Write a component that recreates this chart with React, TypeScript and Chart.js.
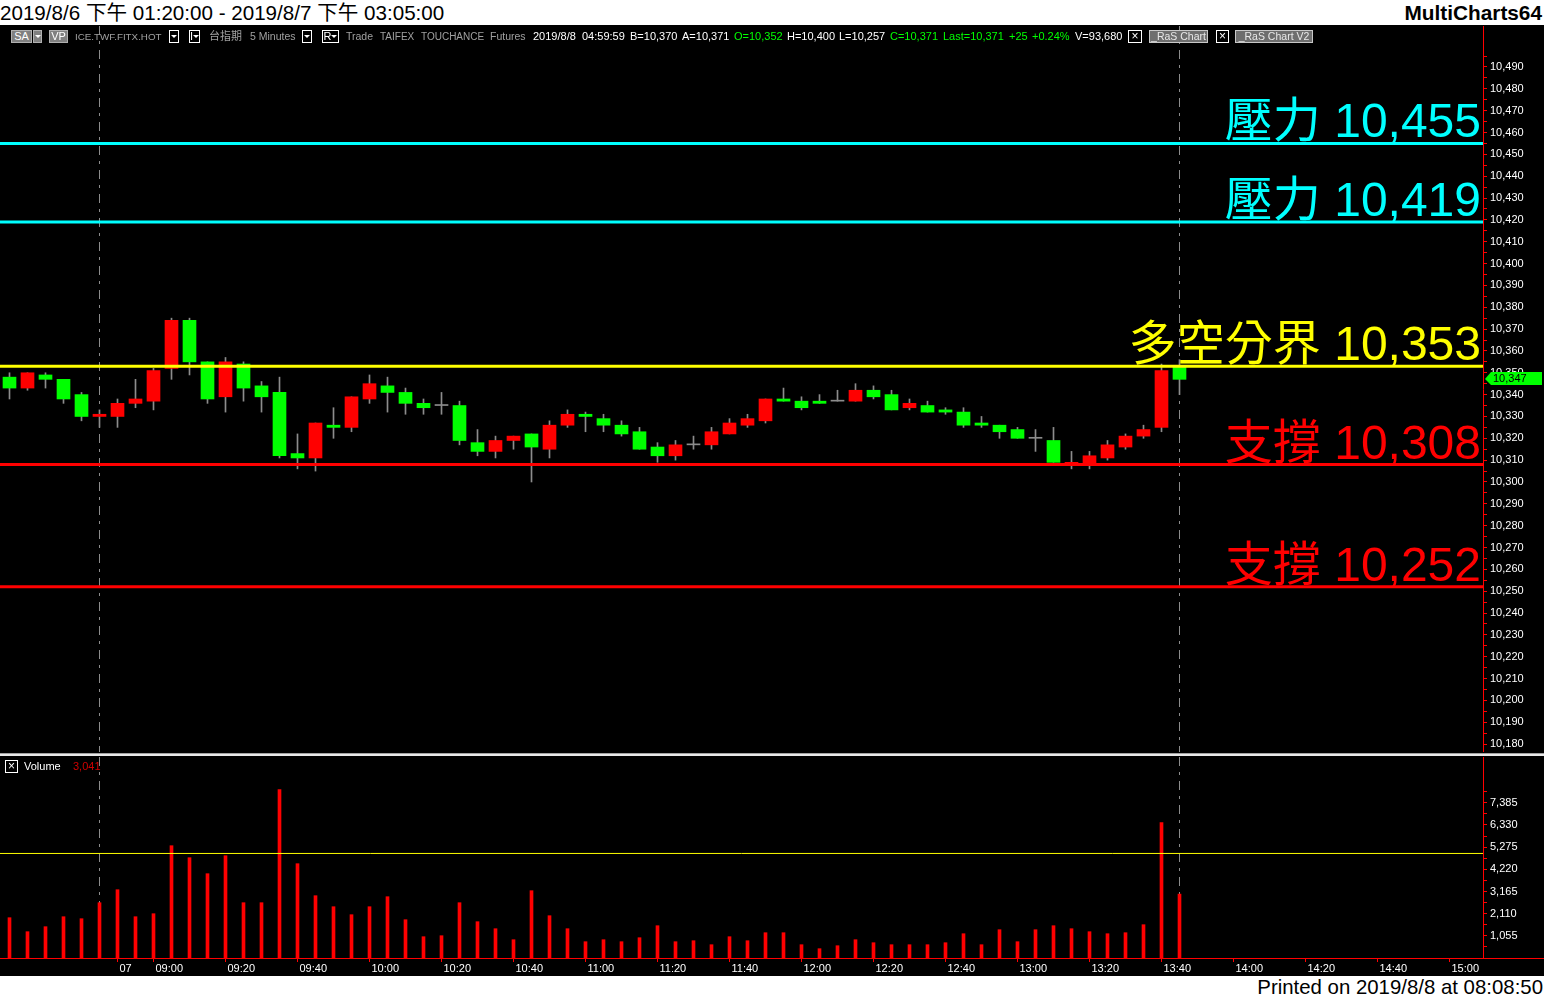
import React, { useEffect, useRef } from "react";
import { Chart, registerables } from "chart.js";

Chart.register(...registerables);

// ---------------- DATA ----------------
const barTimes = [
  "8/6 13:20", "8/6 13:25", "8/6 13:30", "8/6 13:35", "8/6 13:40", "8/6 13:45",
  "08:50", "08:55", "09:00", "09:05", "09:10", "09:15", "09:20", "09:25", "09:30", "09:35",
  "09:40", "09:45", "09:50", "09:55", "10:00", "10:05", "10:10", "10:15", "10:20", "10:25",
  "10:30", "10:35", "10:40", "10:45", "10:50", "10:55", "11:00", "11:05", "11:10", "11:15",
  "11:20", "11:25", "11:30", "11:35", "11:40", "11:45", "11:50", "11:55", "12:00", "12:05",
  "12:10", "12:15", "12:20", "12:25", "12:30", "12:35", "12:40", "12:45", "12:50", "12:55",
  "13:00", "13:05", "13:10", "13:15", "13:20", "13:25", "13:30", "13:35", "13:40", "13:45",
];

const opens = [
  10348, 10343, 10349, 10347, 10340, 10330, 10330, 10336, 10337, 10352, 10374, 10355, 10339, 10354, 10344, 10341,
  10313, 10311, 10326, 10325, 10338, 10344, 10341, 10336, 10335, 10335, 10318, 10314, 10319, 10322, 10315, 10326,
  10331, 10329, 10326, 10323, 10316, 10312, 10317, 10317, 10322, 10326, 10328, 10338, 10337, 10337, 10337, 10337,
  10342, 10340, 10334, 10335, 10333, 10332, 10327, 10326, 10324, 10320, 10319, 10308, 10308, 10311, 10316, 10321,
  10325, 10353,
];
const highs = [
  10350, 10350, 10350, 10347, 10341, 10333, 10338, 10347, 10352, 10375, 10375, 10355, 10357, 10355, 10346, 10348,
  10322, 10327, 10334, 10339, 10349, 10348, 10343, 10338, 10341, 10337, 10324, 10321, 10321, 10322, 10328, 10333,
  10332, 10331, 10328, 10325, 10318, 10319, 10321, 10325, 10329, 10331, 10338, 10343, 10339, 10340, 10342, 10345,
  10344, 10342, 10338, 10337, 10334, 10334, 10330, 10326, 10325, 10324, 10325, 10314, 10314, 10319, 10322, 10326,
  10354, 10356,
];
const lows = [
  10338, 10342, 10343, 10336, 10328, 10325, 10325, 10334, 10333, 10347, 10349, 10336, 10332, 10337, 10332, 10311,
  10306, 10305, 10320, 10323, 10336, 10332, 10331, 10331, 10331, 10317, 10312, 10311, 10315, 10300, 10311, 10325,
  10323, 10323, 10321, 10315, 10309, 10310, 10315, 10315, 10322, 10325, 10327, 10337, 10333, 10336, 10337, 10337,
  10338, 10333, 10333, 10332, 10331, 10325, 10325, 10320, 10320, 10314, 10309, 10306, 10306, 10310, 10315, 10320,
  10323, 10340,
];
const closes = [
  10343, 10350, 10347, 10338, 10330, 10331, 10336, 10338, 10351, 10374, 10355, 10338, 10355, 10343, 10339, 10312,
  10311, 10327, 10325, 10339, 10345, 10341, 10336, 10334, 10335, 10319, 10314, 10319, 10321, 10316, 10326, 10331,
  10330, 10326, 10322, 10315, 10312, 10317, 10317, 10323, 10327, 10329, 10338, 10337, 10334, 10336, 10337, 10342,
  10339, 10333, 10336, 10332, 10332, 10326, 10326, 10323, 10320, 10320, 10309, 10309, 10312, 10317, 10321, 10324,
  10351, 10347,
];
const volumes = [
  1918, 1252, 1490, 1965, 1870, 2632, 3250, 1965, 2108, 5344, 4773, 4012, 4868, 2632, 2632, 8010,
  4488, 2965, 2441, 2061, 2441, 2917, 1823, 1014, 1061, 2632, 1728, 1394, 871, 3203, 2013, 1394,
  776, 871, 776, 966, 1537, 776, 823, 633, 1014, 823, 1204, 1204, 633, 443, 585, 871,
  728, 633, 633, 633, 728, 1156, 633, 1347, 776, 1347, 1537, 1394, 1252, 1156, 1204, 1585,
  6439, 3041,
];

const levelValues = [10455, 10419, 10353, 10308, 10252];
const levelNames = ["壓力", "壓力", "多空分界", "支撐", "支撐"];
const levelColors = ["#00ffff", "#00ffff", "#ffff00", "#ff0000", "#ff0000"];

const volumeAverage = 4975;
const sessionBreakIndex = [5, 65];

const timeTickIndex = [6, 8, 12, 16, 20, 24, 28, 32, 36, 40, 44, 48, 52, 56, 60, 64, 68, 72, 76, 80];
const timeTickLabels = [
  "07", "09:00", "09:20", "09:40", "10:00", "10:20", "10:40", "11:00", "11:20", "11:40",
  "12:00", "12:20", "12:40", "13:00", "13:20", "13:40", "14:00", "14:20", "14:40", "15:00",
];

const priceTickFirst = 10180;
const priceTickLast = 10495;
const priceTickStep = 5;
const priceLabelStep = 10;
const priceMin = 10176.37;
const priceMax = 10508.77;

const volumeTickStep = 1055;
const volumeMinorCount = 15;
const volumeMax = 9565;

const headerTitle = "2019/8/6 下午 01:20:00 - 2019/8/7 下午 03:05:00";
const headerApp = "MultiCharts64";
const footerText = "Printed on 2019/8/8 at 08:08:50";

// ---------------- LAYOUT CONSTANTS ----------------
const W = 1544;
const PLOT_RIGHT_AXIS = 61;
const SLOT = 18;
const X_MIN = -0.5 - 0.5 / SLOT;
const X_MAX = X_MIN + (W - PLOT_RIGHT_AXIS) / SLOT;

const AXIS_FONT = "'Liberation Sans', Arial, sans-serif";
const fmt = (v: number) => Math.round(v).toLocaleString("en-US");

const idx = barTimes.map((_, i) => i);

const sessionPlugin = {
  id: "sessionBreaks",
  beforeDatasetsDraw(chart: any) {
    const { ctx, chartArea } = chart;
    const xs = chart.scales.x;
    ctx.save();
    ctx.strokeStyle = "#8c8c8c";
    ctx.lineWidth = 1;
    ctx.setLineDash([9, 6, 3, 6]);
    sessionBreakIndex.forEach((b) => {
      const x = Math.floor(xs.getPixelForValue(b)) + 0.5;
      ctx.beginPath();
      ctx.moveTo(x, chartArea.top);
      ctx.lineTo(x, chartArea.bottom);
      ctx.stroke();
    });
    ctx.restore();
  },
};

const levelLabelPlugin = {
  id: "levelLabels",
  afterDatasetsDraw(chart: any) {
    const { ctx, chartArea } = chart;
    const ys = chart.scales.y;
    ctx.save();
    ctx.font = "48px 'Liberation Sans', 'Noto Sans CJK TC', sans-serif";
    ctx.textAlign = "right";
    ctx.textBaseline = "alphabetic";
    levelValues.forEach((lv, k) => {
      const y = ys.getPixelForValue(lv);
      ctx.fillStyle = levelColors[k];
      ctx.fillText(`${levelNames[k]} ${fmt(lv)}`, chartArea.right - 2, y - 6);
    });
    ctx.restore();
  },
};

const lastPricePlugin = {
  id: "lastPrice",
  afterDraw(chart: any) {
    const { ctx, chartArea } = chart;
    const ys = chart.scales.y;
    const last = closes[closes.length - 1];
    const y = Math.round(ys.getPixelForValue(last));
    const x0 = chartArea.right + 2;
    ctx.save();
    ctx.fillStyle = "#00ff00";
    ctx.beginPath();
    ctx.moveTo(x0, y);
    ctx.lineTo(x0 + 6, y - 7);
    ctx.lineTo(W - 2, y - 7);
    ctx.lineTo(W - 2, y + 6);
    ctx.lineTo(x0 + 6, y + 6);
    ctx.closePath();
    ctx.fill();
    ctx.fillStyle = "#000000";
    ctx.font = `11px ${AXIS_FONT}`;
    ctx.textAlign = "left";
    ctx.textBaseline = "middle";
    ctx.fillText(fmt(last), x0 + 8, y);
    ctx.restore();
  },
};

const axisExtendPlugin = {
  id: "axisExtend",
  afterDraw(chart: any) {
    const { ctx, chartArea } = chart;
    ctx.save();
    ctx.strokeStyle = "#ff0000";
    ctx.lineWidth = 1;
    ctx.beginPath();
    const y = Math.round(chartArea.bottom) + 0.5;
    ctx.moveTo(chartArea.right, y);
    ctx.lineTo(W, y);
    ctx.stroke();
    ctx.restore();
  },
};

const legendItems: any[] = [
  { x: 11, w: 21, text: "SA", kind: "gray" },
  { x: 33, w: 9, text: "", kind: "grayDrop" },
  { x: 49, w: 19, text: "VP", kind: "gray" },
  { x: 75, text: "ICE.TWF.FITX.HOT", color: "#a0a0a0", size: 9.8 },
  { x: 169, w: 10, text: "", kind: "drop" },
  { x: 189, w: 11, text: "I", kind: "dropText" },
  { x: 209, text: "台指期", color: "#a0a0a0", size: 11 },
  { x: 250, text: "5 Minutes", color: "#a0a0a0", size: 10.5 },
  { x: 302, w: 10, text: "", kind: "drop" },
  { x: 322, w: 17, text: "R", kind: "dropText" },
  { x: 346, text: "Trade", color: "#a0a0a0", size: 10.5 },
  { x: 380, text: "TAIFEX", color: "#a0a0a0", size: 10 },
  { x: 421, text: "TOUCHANCE", color: "#a0a0a0", size: 10 },
  { x: 490, text: "Futures", color: "#a0a0a0", size: 10.5 },
  { x: 533, text: "2019/8/8", color: "#ffffff" },
  { x: 582, text: "04:59:59", color: "#ffffff" },
  { x: 630, text: "B=10,370", color: "#ffffff" },
  { x: 682, text: "A=10,371", color: "#ffffff" },
  { x: 734, text: "O=10,352", color: "#00ff00" },
  { x: 787, text: "H=10,400", color: "#ffffff" },
  { x: 839, text: "L=10,257", color: "#ffffff" },
  { x: 890, text: "C=10,371", color: "#00ff00" },
  { x: 943, text: "Last=10,371", color: "#00ff00" },
  { x: 1009, text: "+25", color: "#00ff00" },
  { x: 1032, text: "+0.24%", color: "#00ff00" },
  { x: 1075, text: "V=93,680", color: "#ffffff" },
  { x: 1128, w: 14, text: "×", kind: "box" },
  { x: 1149, w: 59, text: "_RaS Chart", kind: "ras" },
  { x: 1216, w: 13, text: "×", kind: "box" },
  { x: 1235, w: 78, text: "_RaS Chart V2", kind: "ras" },
];

function Tri() {
  return (
    <span
      style={{
        display: "inline-block",
        width: 0,
        height: 0,
        borderLeft: "3px solid transparent",
        borderRight: "3px solid transparent",
        borderTop: "3px solid #ffffff",
        verticalAlign: "middle",
        marginBottom: 1,
      }}
    />
  );
}

function LegendRow() {
  const base: React.CSSProperties = {
    position: "absolute",
    top: 30,
    height: 13,
    lineHeight: "13px",
    fontSize: 11,
    fontFamily: "'Liberation Sans', Arial, 'Noto Sans CJK TC', sans-serif",
    whiteSpace: "nowrap",
  };
  return (
    <>
      {legendItems.map((it, k) => {
        if (!it.kind) {
          return (
            <span key={k} style={{ ...base, left: it.x, color: it.color, fontSize: it.size || 11 }}>
              {it.text}
            </span>
          );
        }
        const box: React.CSSProperties = {
          ...base,
          left: it.x,
          width: it.w,
          boxSizing: "border-box",
          textAlign: "center",
          lineHeight: "11px",
          color: "#ffffff",
        };
        if (it.kind === "gray")
          return (
            <span key={k} style={{ ...box, background: "#808080", border: "1px solid #b0b0b0" }}>
              {it.text}
            </span>
          );
        if (it.kind === "grayDrop")
          return (
            <span key={k} style={{ ...box, background: "#808080", border: "1px solid #b0b0b0" }}>
              <Tri />
            </span>
          );
        if (it.kind === "drop")
          return (
            <span key={k} style={{ ...box, border: "1px solid #ffffff" }}>
              <Tri />
            </span>
          );
        if (it.kind === "dropText")
          return (
            <span key={k} style={{ ...box, border: "1px solid #ffffff" }}>
              {it.text}
              <Tri />
            </span>
          );
        if (it.kind === "box")
          return (
            <span key={k} style={{ ...box, border: "1px solid #ffffff", fontSize: 12 }}>
              {it.text}
            </span>
          );
        return (
          <span key={k} style={{ ...box, background: "#6e6e6e", border: "1px solid #c8c8c8", color: "#e8e8e8", fontSize: 10.5 }}>
            {it.text}
          </span>
        );
      })}
    </>
  );
}

export default function App() {
  const priceRef = useRef<HTMLCanvasElement>(null);
  const volRef = useRef<HTMLCanvasElement>(null);

  useEffect(() => {
    const priceTicks: number[] = [];
    for (let v = priceTickFirst; v <= priceTickLast; v += priceTickStep) priceTicks.push(v);
    const volTicks: number[] = [];
    for (let k = 1; k <= volumeMinorCount; k++) volTicks.push((k * volumeTickStep) / 2);

    const bodyColors = idx.map((i) =>
      closes[i] > opens[i] ? "#ff0000" : closes[i] < opens[i] ? "#00ff00" : "#8c8c8c"
    );

    const yAxisCommon = {
      type: "linear",
      position: "right",
      grid: { drawOnChartArea: false, drawTicks: true, tickLength: 4, tickColor: "#ff0000", color: "#ff0000" },
      border: { display: true, color: "#ff0000", width: 1 },
    };

    const price = new Chart(priceRef.current!, {
      type: "bar",
      data: {
        datasets: [
          ...levelValues.map((lv, k) => ({
            type: "line",
            data: [
              { x: X_MIN, y: lv },
              { x: X_MAX, y: lv },
            ],
            borderColor: levelColors[k],
            borderWidth: 3,
            pointRadius: 0,
            order: 0,
          })),
          {
            type: "bar",
            data: idx.map((i) => ({ x: i, y: [opens[i], closes[i]] })),
            backgroundColor: bodyColors,
            barThickness: 13,
            minBarLength: 1,
            grouped: false,
            order: 1,
          },
          {
            type: "bar",
            data: idx.map((i) => ({ x: i, y: [lows[i], highs[i]] })),
            backgroundColor: "#8c8c8c",
            barThickness: 1,
            grouped: false,
            order: 2,
          },
        ] as any,
      },
      options: {
        responsive: false,
        maintainAspectRatio: false,
        animation: false,
        devicePixelRatio: 1,
        layout: { padding: 0 },
        plugins: { legend: { display: false }, tooltip: { enabled: false }, title: { display: false } },
        scales: {
          x: { type: "linear", display: false, min: X_MIN, max: X_MAX, offset: false, grid: { offset: false } },
          y: {
            ...yAxisCommon,
            min: priceMin,
            max: priceMax,
            afterBuildTicks: (s: any) => {
              s.ticks = priceTicks.map((v) => ({ value: v }));
            },
            afterFit: (s: any) => {
              s.width = PLOT_RIGHT_AXIS;
              s.paddingTop = 0;
              s.paddingBottom = 0;
            },
            ticks: {
              color: "#ffffff",
              padding: 3,
              font: { family: AXIS_FONT, size: 11 },
              autoSkip: false,
              callback: (v: any) => (Number(v) % priceLabelStep === 0 ? fmt(Number(v)) : ""),
            },
          },
        } as any,
      },
      plugins: [sessionPlugin, levelLabelPlugin, lastPricePlugin],
    } as any);

    const vol = new Chart(volRef.current!, {
      type: "bar",
      data: {
        datasets: [
          {
            type: "line",
            data: [
              { x: X_MIN, y: volumeAverage },
              { x: X_MAX, y: volumeAverage },
            ],
            borderColor: "#ffff00",
            borderWidth: 1,
            pointRadius: 0,
            order: 0,
          },
          {
            type: "bar",
            data: idx.map((i) => ({ x: i, y: volumes[i] })),
            backgroundColor: "#ff0000",
            barThickness: 3,
            grouped: false,
            order: 1,
          },
        ] as any,
      },
      options: {
        responsive: false,
        maintainAspectRatio: false,
        animation: false,
        devicePixelRatio: 1,
        layout: { padding: 0 },
        plugins: { legend: { display: false }, tooltip: { enabled: false }, title: { display: false } },
        scales: {
          x: {
            type: "linear",
            position: "bottom",
            min: X_MIN,
            max: X_MAX,
            offset: false,
            afterBuildTicks: (s: any) => {
              s.ticks = timeTickIndex.map((v) => ({ value: v }));
            },
            afterFit: (s: any) => {
              s.height = 18;
              s.paddingLeft = 0;
              s.paddingRight = 0;
            },
            ticks: {
              autoSkip: false,
              maxRotation: 0,
              minRotation: 0,
              align: "start",
              labelOffset: 2,
              padding: 0,
              color: "#ffffff",
              font: { family: AXIS_FONT, size: 11 },
              callback: (_v: any, i: number) => timeTickLabels[i],
            },
            grid: { drawOnChartArea: false, tickLength: 4, tickColor: "#ff0000", offset: false },
            border: { display: true, color: "#ff0000", width: 1 },
          },
          y: {
            ...yAxisCommon,
            min: 0,
            max: volumeMax,
            afterBuildTicks: (s: any) => {
              s.ticks = volTicks.map((v) => ({ value: v }));
            },
            afterFit: (s: any) => {
              s.width = PLOT_RIGHT_AXIS;
              s.paddingTop = 0;
              s.paddingBottom = 0;
            },
            ticks: {
              color: "#ffffff",
              padding: 3,
              font: { family: AXIS_FONT, size: 11 },
              autoSkip: false,
              callback: (v: any) => {
                const n = Number(v);
                const k = Math.round(n / (volumeTickStep / 2));
                return k % 2 === 0 && k <= 14 ? fmt(n) : "";
              },
            },
          },
        } as any,
      },
      plugins: [sessionPlugin, axisExtendPlugin],
    } as any);

    return () => {
      price.destroy();
      vol.destroy();
    };
  }, []);

  const headFont = "'Liberation Sans', Arial, 'Noto Sans CJK TC', sans-serif";

  return (
    <div
      style={{
        position: "fixed",
        left: 0,
        top: 0,
        width: W,
        height: 999,
        background: "#ffffff",
        overflow: "hidden",
      }}
    >
      <div
        style={{
          position: "absolute",
          left: 0,
          top: 0,
          height: 25,
          lineHeight: "25px",
          fontSize: 20.6,
          fontFamily: headFont,
          color: "#000",
          whiteSpace: "nowrap",
        }}
      >
        {headerTitle}
      </div>
      <div
        style={{
          position: "absolute",
          right: 2,
          top: 0,
          height: 25,
          lineHeight: "25px",
          fontSize: 20.8,
          fontWeight: "bold",
          fontFamily: headFont,
          color: "#000",
          whiteSpace: "nowrap",
        }}
      >
        {headerApp}
      </div>
      <div style={{ position: "absolute", left: 0, top: 25, width: W, height: 951, background: "#000" }} />
      <canvas
        ref={priceRef}
        width={W}
        height={726}
        style={{ position: "absolute", left: 0, top: 26, width: W, height: 726 }}
      />
      <LegendRow />
      <div style={{ position: "absolute", left: 0, top: 753, width: W, height: 1, background: "#a0a0a0" }} />
      <div style={{ position: "absolute", left: 0, top: 754, width: W, height: 2, background: "#e8e8e8" }} />
      <canvas
        ref={volRef}
        width={W}
        height={219}
        style={{ position: "absolute", left: 0, top: 757, width: W, height: 219 }}
      />
      <span
        style={{
          position: "absolute",
          left: 5,
          top: 760,
          width: 13,
          height: 13,
          boxSizing: "border-box",
          border: "1px solid #ffffff",
          color: "#ffffff",
          fontSize: 12,
          lineHeight: "10px",
          textAlign: "center",
          fontFamily: AXIS_FONT,
        }}
      >
        ×
      </span>
      <span
        style={{
          position: "absolute",
          left: 24,
          top: 760,
          lineHeight: "13px",
          fontSize: 11,
          color: "#ffffff",
          fontFamily: AXIS_FONT,
        }}
      >
        Volume
      </span>
      <span
        style={{
          position: "absolute",
          left: 73,
          top: 760,
          lineHeight: "13px",
          fontSize: 11,
          color: "#d00000",
          fontFamily: AXIS_FONT,
        }}
      >
        {fmt(volumes[volumes.length - 1])}
      </span>
      <div
        style={{
          position: "absolute",
          right: 1,
          top: 976,
          height: 23,
          lineHeight: "23px",
          fontSize: 20.4,
          fontFamily: headFont,
          color: "#000",
          whiteSpace: "nowrap",
        }}
      >
        {footerText}
      </div>
    </div>
  );
}
